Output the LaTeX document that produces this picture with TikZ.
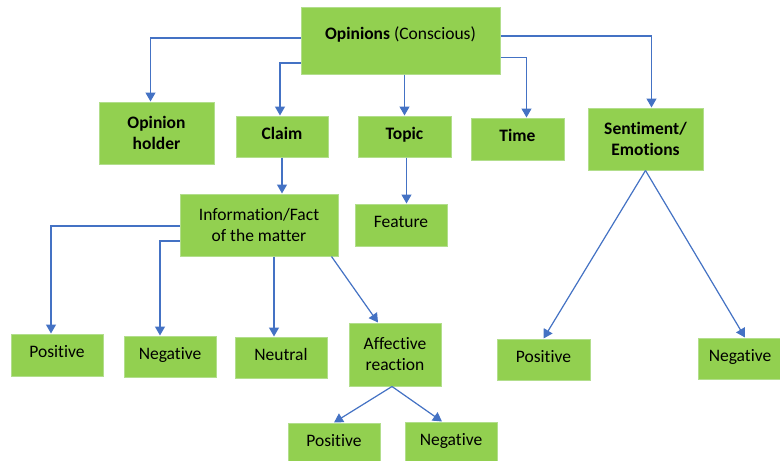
\documentclass[tikz,border=0pt]{standalone}
\usepackage{fontspec}
\setmainfont{Carlito}[Ligatures=CommonOff]
\usetikzlibrary{arrows.meta}
\definecolor{boxgreen}{RGB}{146,208,80}
\definecolor{boxline}{RGB}{178,222,140}
\definecolor{arrblue}{RGB}{68,114,196}

\begin{document}
\begin{tikzpicture}[x=1pt,y=-1pt,
  box/.style={fill=boxgreen,draw=boxline,line width=1pt,align=center,inner sep=2pt,font=\fontsize{17.5}{21}\selectfont},
  bbox/.style={box,font=\fontsize{17.5}{21}\selectfont\bfseries},
  onel/.style={text height=12pt,text depth=7pt},
  arr/.style={draw=arrblue,line width=1.2pt,-{Triangle[length=9pt,width=10pt]}}]
\useasboundingbox[fill=white] (0,0) rectangle (780,461);
% top level
\node[box,minimum width=199pt,minimum height=67pt,text height=12pt,text depth=15pt] (op) at (400.5,40.5) {\textbf{Opinions} (Conscious)};
\node[bbox,minimum width=115pt,minimum height=62pt] (holder) at (156.5,133) {Opinion\\holder};
\node[bbox,onel,minimum width=92pt,minimum height=41pt] (claim) at (282,136.5) {Claim};
\node[bbox,onel,minimum width=93pt,minimum height=41pt] (topic) at (404.5,136.5) {Topic};
\node[bbox,onel,minimum width=93pt,minimum height=42pt] (time) at (517.5,139) {Time};
\node[bbox,minimum width=115pt,minimum height=62pt] (senti) at (645.5,139) {Sentiment/\\Emotions};
% second level
\node[box,minimum width=158pt,minimum height=62pt] (info) at (259,225) {Information/Fact\\of the matter};
\node[box,onel,minimum width=92pt,minimum height=42pt] (feature) at (401,225) {Feature};
\node[box,onel,minimum width=92pt,minimum height=42pt] (pos1) at (57,355) {Positive};
\node[box,onel,minimum width=92pt,minimum height=41pt] (neg1) at (170,356.5) {Negative};
\node[box,onel,minimum width=92pt,minimum height=41pt] (neut) at (281,357.5) {Neutral};
\node[box,minimum width=92pt,minimum height=63pt] (affect) at (395,354.5) {Affective\\reaction};
\node[box,onel,minimum width=93pt,minimum height=41pt] (pos2) at (543.5,359.5) {Positive};
\node[box,onel,minimum width=84pt,minimum height=41pt] (neg2) at (740,358.5) {Negative};
\node[box,onel,minimum width=92pt,minimum height=42pt] (pos3) at (334,444) {Positive};
\node[box,onel,minimum width=92pt,minimum height=42pt] (neg3) at (451,443) {Negative};
% connectors
\draw[arr] ([yshift=2.5pt]op.west) -| ([xshift=-6pt]holder.north);
\draw[arr] ([yshift=-22.5pt]op.west) -| ([xshift=-2pt]claim.north);
\draw[arr] (op.south -| topic.north) -- (topic.north);
\draw[arr] ([yshift=-17pt]op.east) -| ([xshift=9pt]time.north);
\draw[arr] ([yshift=4.5pt]op.east) -| ([xshift=6pt]senti.north);
\draw[arr] (claim.south) -- (claim.south |- info.north);
\draw[arr] ([xshift=2pt]topic.south) -- ([xshift=2pt]topic.south |- feature.north);
\draw[arr] ([yshift=-1pt]info.west) -| ([xshift=-6pt]pos1.north);
\draw[arr] ([yshift=-16pt]info.west) -| ([xshift=-10pt]neg1.north);
\draw[arr] ([xshift=15pt]info.south) -- ([xshift=-7pt]neut.north);
\draw[arr] ([xshift=-7pt]info.south east) -- ([xshift=-17pt]affect.north);
\draw[arr] ([xshift=-3pt]affect.south) -- (pos3.north);
\draw[arr] ([xshift=-3pt]affect.south) -- ([xshift=-9pt]neg3.north);
\draw[arr] (senti.south) -- (pos2.north);
\draw[arr] (senti.south) -- ([xshift=5pt]neg2.north);
\end{tikzpicture}
\end{document}
